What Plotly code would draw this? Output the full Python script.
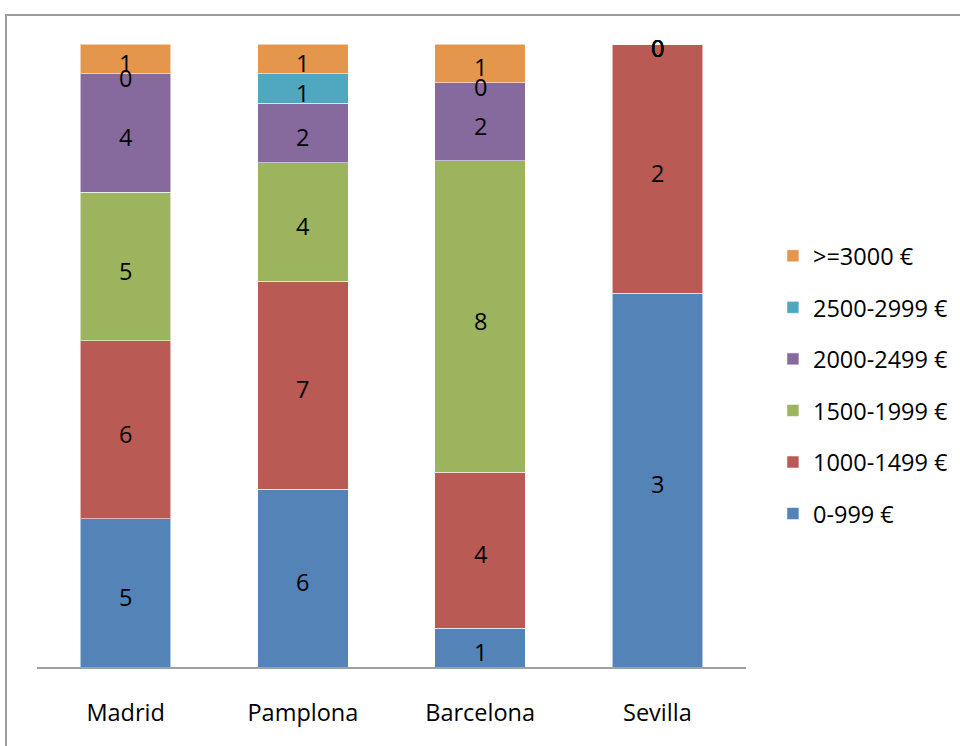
import numpy as np
import plotly.graph_objects as go

cities = ["Madrid", "Pamplona", "Barcelona", "Sevilla"]
salary_bands = ["0-999 €", "1000-1499 €", "1500-1999 €", "2000-2499 €", "2500-2999 €", ">=3000 €"]
band_colors = ["#5383B7", "#B95A54", "#9BB45D", "#866A9E", "#4FA8C0", "#E3964C"]

# counts per city for each salary band (rows follow salary_bands)
counts_0_999 = [5, 6, 1, 3]
counts_1000_1499 = [6, 7, 4, 2]
counts_1500_1999 = [5, 4, 8, 0]
counts_2000_2499 = [4, 2, 2, 0]
counts_2500_2999 = [0, 1, 0, 0]
counts_3000_plus = [1, 1, 1, 0]

counts = np.array([counts_0_999, counts_1000_1499, counts_1500_1999,
                   counts_2000_2499, counts_2500_2999, counts_3000_plus], dtype=float)

FONT = "Open Sans"
FS = 23.5

# share of each band within a city, and label positions at segment centres
pct = counts / counts.sum(axis=0) * 100
top = np.cumsum(pct, axis=0)
mid = top - pct / 2

n = len(salary_bands)
fig = go.Figure()
for i, band in enumerate(salary_bands):
    fig.add_trace(go.Bar(
        x=cities, y=counts[i], name=band,
        marker=dict(color=band_colors[i], line=dict(color="rgba(255,255,255,0.55)", width=1)),
        legendgroup=band, legendrank=n - i, hoverinfo="skip",
    ))

annotations = []
for i in range(n):
    for j, city in enumerate(cities):
        annotations.append(dict(
            x=city, y=mid[i][j], xref="x", yref="y",
            text=f"{int(counts[i][j])}", showarrow=False, yshift=-4,
            font=dict(family=FONT, size=FS, color="#000000"),
        ))

fig.update_layout(
    width=960, height=746,
    margin=dict(l=37, r=214, t=44, b=79, autoexpand=False),
    barmode="stack", barnorm="percent", bargap=0.49,
    paper_bgcolor="white", plot_bgcolor="white",
    font=dict(family=FONT, size=FS, color="#000000"),
    showlegend=True,
    legend=dict(
        traceorder="grouped", tracegroupgap=18,
        x=1.038, xanchor="left", y=0.695, yanchor="top",
        font=dict(family=FONT, size=FS, color="#000000"),
        itemclick=False, itemdoubleclick=False,
    ),
    annotations=annotations,
    xaxis=dict(
        range=[-0.5, 3.5], showline=True, linecolor="#A0A0A0", linewidth=2,
        ticks="", showgrid=False, zeroline=False, ticklabelstandoff=24,
        tickfont=dict(family=FONT, size=FS, color="#000000"),
    ),
    yaxis=dict(range=[0, 100], visible=False, showgrid=False, zeroline=False),
    shapes=[dict(
        type="rect", xref="paper", yref="paper",
        x0=(6 - 37) / 709, x1=1.5, y0=-0.5, y1=1 + (44 - 15) / 623,
        line=dict(color="#9C9C9C", width=2), fillcolor="rgba(0,0,0,0)", layer="below",
    )],
)

fig.write_html("out.html")
